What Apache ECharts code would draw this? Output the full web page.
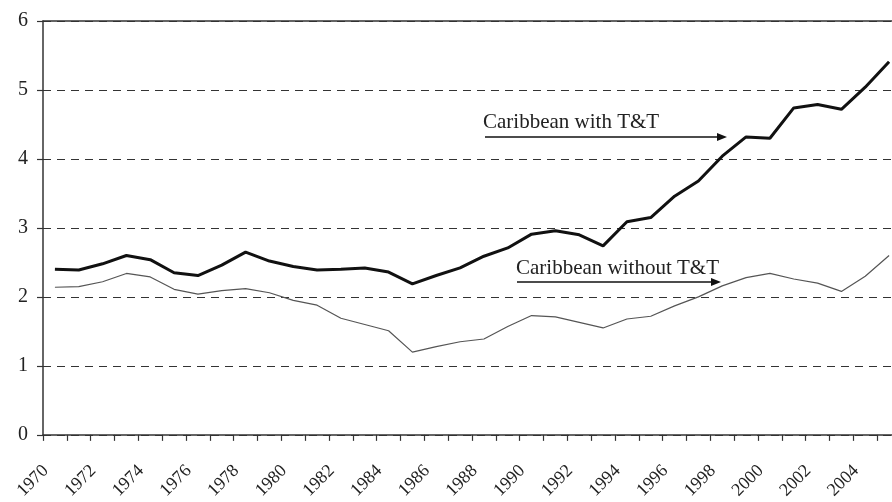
<!DOCTYPE html>
<html>
<head>
<meta charset="utf-8">
<script src="https://cdn.jsdelivr.net/npm/echarts@6/dist/echarts.min.js"></script>
<style>
  html, body { margin: 0; padding: 0; background: #fff; overflow: hidden; }
  /* plot runs a little past the right edge of the window, as in the picture */
  #chart { width: 901px; height: 502px; }
</style>
</head>
<body>
<div id="chart"></div>
<script>
// years on the x axis
const years = []
for (let y = 1970; y <= 2005; y++) years.push(String(y))

// values
const withTT = [2.40, 2.39, 2.48, 2.60, 2.54, 2.35, 2.31, 2.46, 2.65, 2.52, 2.44,
  2.39, 2.40, 2.42, 2.36, 2.19, 2.31, 2.42, 2.59, 2.71, 2.91, 2.96, 2.90,
  2.74, 3.09, 3.15, 3.46, 3.68, 4.04, 4.32, 4.30, 4.74, 4.79, 4.72, 5.04, 5.41]
const withoutTT = [2.14, 2.15, 2.22, 2.34, 2.29, 2.11, 2.04, 2.09, 2.12, 2.06, 1.95,
  1.88, 1.69, 1.60, 1.51, 1.20, 1.28, 1.35, 1.39, 1.57, 1.73, 1.71, 1.63,
  1.55, 1.68, 1.72, 1.87, 2.00, 2.16, 2.28, 2.34, 2.26, 2.20, 2.08, 2.30, 2.60]

const serif = '"Liberation Serif", "Times New Roman", serif'
const ink = '#222'

const myChart = echarts.init(document.getElementById('chart'))

const arrow = (x1, x2, y, tip) => [
  {
    type: 'line',
    shape: { x1: x1, y1: y, x2: x2, y2: y },
    style: { stroke: '#111', lineWidth: 1.6 }
  },
  {
    type: 'polygon',
    shape: { points: [[tip, y], [tip - 10, y - 4], [tip - 10, y + 4]] },
    style: { fill: '#111' }
  }
]

const option = {
  animation: false,
  backgroundColor: '#fff',
  grid: {
    left: 43,
    top: 21,
    bottom: 66,
    right: 0,
    containLabel: false
  },
  xAxis: [
    {
      type: 'category',
      data: years,
      boundaryGap: true,
      axisLine: { lineStyle: { color: '#333', width: 1.5 } },
      axisTick: { show: true, interval: 0, length: 6, lineStyle: { color: '#333', width: 1.2 } },
      axisLabel: {
        interval: 1,
        rotate: 45,
        margin: 24,
        padding: [0, 13, 0, 0],
        fontFamily: serif,
        fontSize: 18,
        color: ink
      },
      splitLine: { show: false }
    },
    {
      type: 'category',
      data: years,
      position: 'top',
      axisLine: { show: true, lineStyle: { color: '#333', width: 1.5 } },
      axisTick: { show: false },
      axisLabel: { show: false }
    }
  ],
  yAxis: {
    type: 'value',
    min: 0,
    max: 6,
    interval: 1,
    axisLine: { show: true, lineStyle: { color: '#333', width: 1.5 } },
    axisTick: { show: true, length: 6, lineStyle: { color: '#333', width: 1.2 } },
    axisLabel: {
      margin: 15,
      fontFamily: serif,
      fontSize: 20,
      color: ink
    },
    splitLine: {
      show: true,
      lineStyle: { color: '#333', width: 1.2, type: [8, 6] }
    }
  },
  series: [
    {
      name: 'Caribbean with T&T',
      type: 'line',
      data: withTT,
      symbol: 'none',
      lineStyle: { color: '#111', width: 3 },
      z: 3
    },
    {
      name: 'Caribbean without T&T',
      type: 'line',
      data: withoutTT,
      symbol: 'none',
      lineStyle: { color: '#555', width: 1.2 },
      z: 2
    }
  ],
  graphic: [
    {
      type: 'text',
      style: {
        text: 'Caribbean with T&T',
        x: 483,
        y: 122,
        font: '21px ' + serif,
        fill: ink,
        verticalAlign: 'middle'
      }
    },
    ...arrow(485, 718, 137, 727),
    {
      type: 'text',
      style: {
        text: 'Caribbean without T&T',
        x: 516,
        y: 268,
        font: '21px ' + serif,
        fill: ink,
        verticalAlign: 'middle'
      }
    },
    ...arrow(517, 712, 282, 721)
  ]
}

myChart.setOption(option)
</script>
</body>
</html>
